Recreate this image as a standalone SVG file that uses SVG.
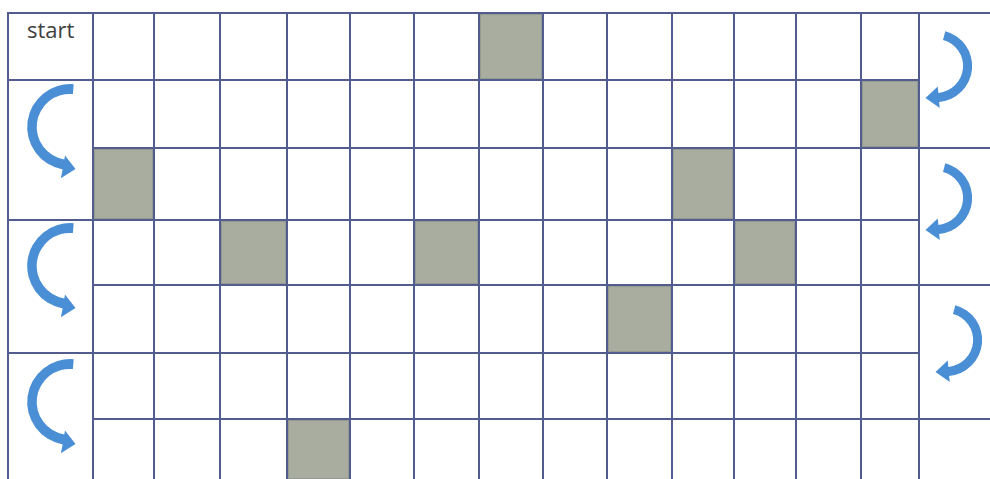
<svg xmlns="http://www.w3.org/2000/svg" xmlns:xlink="http://www.w3.org/1999/xlink" width="990" height="479" viewBox="0 0 990 479">
<style>
.grid line{stroke:#525c8f;stroke-width:2}
.shade{fill:#a9ad9f;stroke:#959a90;stroke-width:2}
.arrow{fill:#4a8fd6}
.label{font-family:"Open Sans","Liberation Sans",sans-serif;font-size:22px;fill:#404040}
</style>
<defs>
<path id="arrL" class="arrow" d="M 3.7 -42.8 A 43 43 0 0 0 -7.3 42.4 L -9.2 51.2 L 5.5 42 L -5 28.5 L -5.7 32.5 A 33 33 0 0 1 2.9 -32.9 Z"/>
<path id="arrR" class="arrow" d="M 9.3 -34.8 A 36 36 0 0 1 3.1 35.9 L 3.8 42 L -10.5 32 L 1.7 20.5 L 2.4 26.9 A 27 27 0 0 0 7 -26.1 Z"/>
</defs>
<rect width="990" height="479" fill="#ffffff"/>
<g id="shaded-cells">
<rect class="shade" x="480" y="14" width="62" height="65"/>
<rect class="shade" x="862" y="81" width="56" height="66"/>
<rect class="shade" x="94" y="149" width="59" height="70"/>
<rect class="shade" x="673" y="149" width="60" height="70"/>
<rect class="shade" x="221" y="221" width="65" height="63"/>
<rect class="shade" x="415" y="221" width="63" height="63"/>
<rect class="shade" x="735" y="221" width="60" height="63"/>
<rect class="shade" x="608" y="286" width="63" height="66"/>
<rect class="shade" x="288" y="420" width="61" height="59"/>
</g>
<g id="grid" class="grid">
<line x1="7" y1="13" x2="990" y2="13"/>
<line x1="7" y1="80" x2="920" y2="80"/>
<line x1="92" y1="148" x2="990" y2="148"/>
<line x1="7" y1="220" x2="920" y2="220"/>
<line x1="92" y1="285" x2="990" y2="285"/>
<line x1="7" y1="353" x2="920" y2="353"/>
<line x1="92" y1="419" x2="990" y2="419"/>
<line x1="8" y1="12" x2="8" y2="479"/>
<line x1="93" y1="12" x2="93" y2="479"/>
<line x1="154" y1="12" x2="154" y2="479"/>
<line x1="220" y1="12" x2="220" y2="479"/>
<line x1="287" y1="12" x2="287" y2="479"/>
<line x1="350" y1="12" x2="350" y2="479"/>
<line x1="414" y1="12" x2="414" y2="479"/>
<line x1="479" y1="12" x2="479" y2="479"/>
<line x1="543" y1="12" x2="543" y2="479"/>
<line x1="607" y1="12" x2="607" y2="479"/>
<line x1="672" y1="12" x2="672" y2="479"/>
<line x1="734" y1="12" x2="734" y2="479"/>
<line x1="796" y1="12" x2="796" y2="479"/>
<line x1="861" y1="12" x2="861" y2="479"/>
<line x1="919" y1="12" x2="919" y2="479"/>
</g>
<g id="start"><text class="label" x="27" y="38">start</text></g>
<g id="connectors">
<use xlink:href="#arrL" transform="translate(70,127)"/>
<use xlink:href="#arrL" transform="translate(70,266)"/>
<use xlink:href="#arrL" transform="translate(70,402)"/>
<use xlink:href="#arrR" transform="translate(936,66)"/>
<use xlink:href="#arrR" transform="translate(936,198)"/>
<use xlink:href="#arrR" transform="translate(946,340)"/>
</g>
</svg>
